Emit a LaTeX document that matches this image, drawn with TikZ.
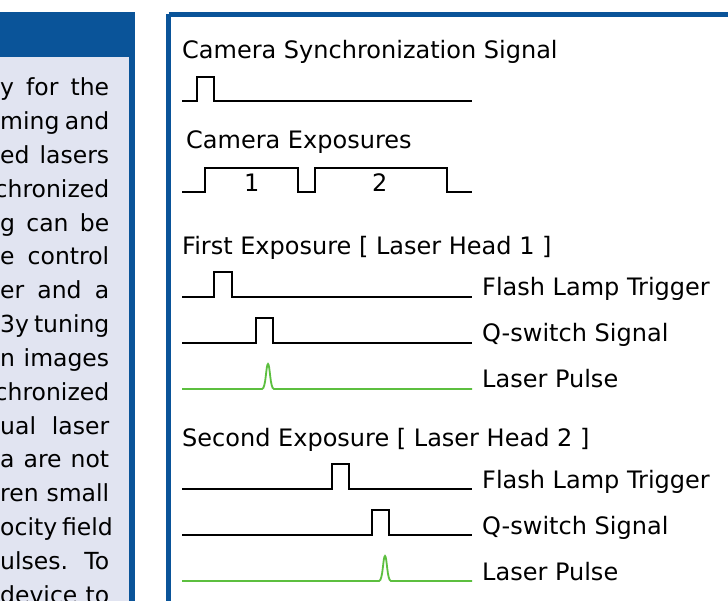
\documentclass[tikz,border=0pt]{standalone}
\usepackage{fontspec}
\setmainfont{DejaVu Sans}
\definecolor{bblue}{HTML}{0A5499}
\definecolor{lblue}{HTML}{E1E4F1}
\definecolor{pgreen}{HTML}{5CBF3F}
\newcommand{\jline}[1]{\makebox[109pt][s]{#1}}
\newcommand{\rline}[1]{\makebox[109pt][r]{#1}}
\begin{document}
\begin{tikzpicture}[x=1pt,y=-1pt,
  sig/.style={line width=2.4pt,black,line join=miter},
  las/.style={line width=1.8pt,pgreen},
  lab/.style={anchor=base west,inner sep=0pt,font=\fontsize{24}{28}\selectfont},
  txt/.style={anchor=base west,inner sep=0pt,font=\fontsize{23.5}{28}\selectfont}]
\useasboundingbox (0,0) rectangle (728,601);
\fill[white] (0,0) rectangle (728,601);
% left panel
\fill[bblue] (0,12) rectangle (135,601);
\fill[lblue] (0,57) rectangle (129,601);
\foreach \t [count=\i] in {\jline{y for the},\jline{ming and},\jline{ed lasers},\rline{chronized},\jline{g can be},\jline{e control},\jline{er and a},\jline{3y tuning},\jline{n images},\rline{chronized},\jline{ual laser},\jline{a are not},\jline{ren small},\jline{ocity field},\jline{ulses. To},\jline{device to}}
  \node[txt] (t\i) at (0,{88+(\i-1)*33.8+8}) {\t};
% right panel
\draw[bblue,line width=5pt] (168.5,14.5) -- (735,14.5) (168.5,14.5) -- (168.5,610);
\node[lab] (l1) at (182,59) {Camera Synchronization Signal};
\draw[sig] (182,101) -- (197,101) -- (197,77) -- (214,77) -- (214,101) -- (472,101);
\node[lab] (l2) at (186,149) {Camera Exposures};
\draw[sig] (182,192) -- (205,192) -- (205,168) -- (298,168) -- (298,192) -- (315,192) -- (315,168) -- (447,168) -- (447,192) -- (472,192);
\node[lab] (n1) at (244,192) {1};
\node[lab] (n2) at (372,192) {2};
\node[lab] (l3) at (182,255) {First Exposure [ Laser Head 1 ]};
\draw[sig] (182,297) -- (214,297) -- (214,272) -- (232,272) -- (232,297) -- (472,297);
\node[lab] (f1) at (482,296) {Flash Lamp Trigger};
\draw[sig] (182,343) -- (256,343) -- (256,318) -- (273,318) -- (273,343) -- (472,343);
\node[lab] (q1) at (482,342) {Q-switch Signal};
\draw[las] (182,389) -- (262,389) .. controls (266,389) and (266,364) .. (268,364) .. controls (270,364) and (270,389) .. (274,389) -- (472,389);
\node[lab] (p1) at (482,388) {Laser Pulse};
\node[lab] (l4) at (182,446) {Second Exposure [ Laser Head 2 ]};
\draw[sig] (182,489) -- (332,489) -- (332,464) -- (349,464) -- (349,489) -- (472,489);
\node[lab] (f2) at (482,488) {Flash Lamp Trigger};
\draw[sig] (182,535) -- (372,535) -- (372,510) -- (389,510) -- (389,535) -- (472,535);
\node[lab] (q2) at (482,534) {Q-switch Signal};
\draw[las] (182,581) -- (379,581) .. controls (383,581) and (383,556) .. (385,556) .. controls (387,556) and (387,581) .. (391,581) -- (472,581);
\node[lab] (p2) at (482,580) {Laser Pulse};
\end{tikzpicture}
\end{document}
